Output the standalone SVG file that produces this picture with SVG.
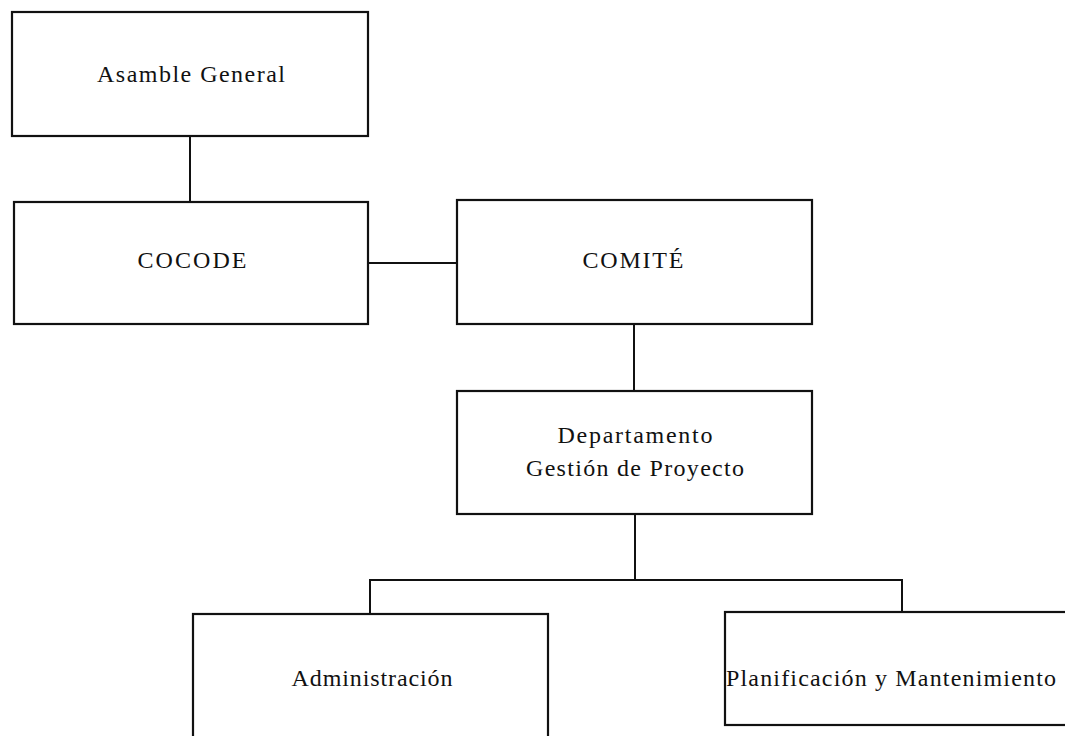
<svg xmlns="http://www.w3.org/2000/svg" width="1065" height="736" viewBox="0 0 1065 736">
<style>
.box{fill:#fff;stroke:#111;stroke-width:2.2}
.ln{fill:none;stroke:#111;stroke-width:2}
text{font-family:"Liberation Serif","Times New Roman",serif;font-size:24px;fill:#111;text-anchor:middle}
</style>
<rect width="1065" height="736" fill="#fff"/>
<g id="connectors">
<line class="ln" x1="190" y1="136" x2="190" y2="202"/>
<line class="ln" x1="368" y1="263" x2="457" y2="263"/>
<line class="ln" x1="634" y1="324" x2="634" y2="391"/>
<line class="ln" x1="635" y1="514" x2="635" y2="580"/>
<polyline class="ln" points="370,614 370,580 902,580 902,612"/>
</g>
<g id="asamble">
<rect class="box" x="12" y="12" width="356" height="124"/>
<text x="191" y="82" textLength="188" lengthAdjust="spacing">Asamble General</text>
</g>
<g id="cocode">
<rect class="box" x="14" y="202" width="354" height="122"/>
<text x="192" y="268" textLength="109" lengthAdjust="spacing">COCODE</text>
</g>
<g id="comite">
<rect class="box" x="457" y="200" width="355" height="124"/>
<text x="633" y="268" textLength="101" lengthAdjust="spacing">COMITÉ</text>
</g>
<g id="departamento">
<rect class="box" x="457" y="391" width="355" height="123"/>
<text x="635" y="443" textLength="155" lengthAdjust="spacing">Departamento</text>
<text x="635" y="476" textLength="218" lengthAdjust="spacing">Gestión de Proyecto</text>
</g>
<g id="administracion">
<rect class="box" x="193" y="614" width="355" height="140"/>
<text x="372" y="686" textLength="161" lengthAdjust="spacing">Administración</text>
</g>
<g id="planificacion">
<rect class="box" x="725" y="612" width="360" height="113"/>
<text x="891" y="686" textLength="330" lengthAdjust="spacing">Planificación y Mantenimiento</text>
</g>
</svg>
